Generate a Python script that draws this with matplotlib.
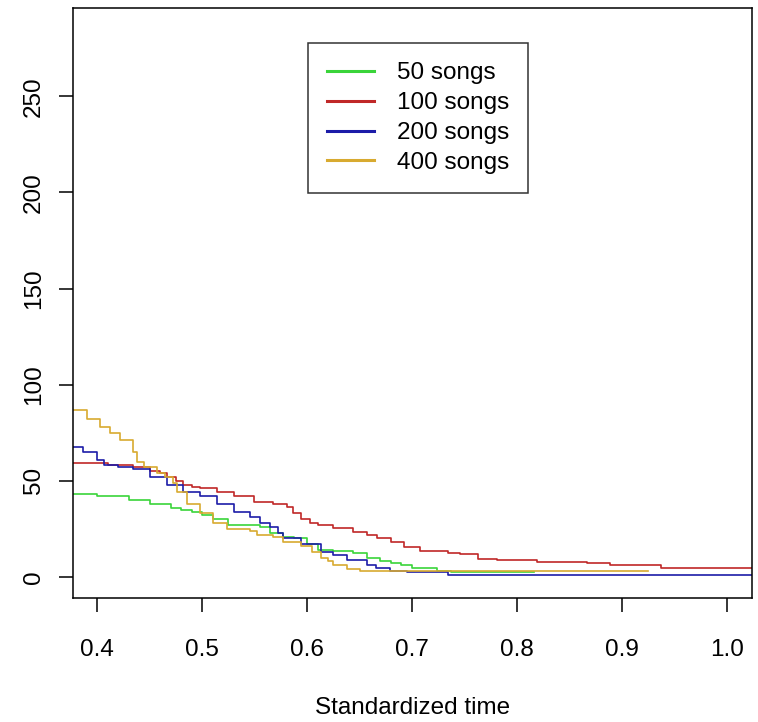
from matplotlib import pyplot as plt

plt.rcParams['font.family'] = ['Liberation Sans', 'DejaVu Sans']

# step curves (x = standardized time, y = count)
x_50 = [0.37, 0.40, 0.43, 0.45, 0.47, 0.48, 0.49, 0.50, 0.51, 0.525, 0.555, 0.565, 0.577, 0.588,
        0.60, 0.61, 0.625, 0.644, 0.657, 0.67, 0.68, 0.69, 0.70, 0.724, 0.737, 0.816]
y_50 = [43, 42, 40, 38, 36, 35, 34, 32, 30, 27, 26, 23, 21, 20,
        17, 14, 13.5, 12.5, 10, 8, 7, 6, 4.5, 3.3, 2.5, 2.5]

x_100 = [0.37, 0.41, 0.434, 0.45, 0.46, 0.467, 0.475, 0.482, 0.49, 0.498, 0.514, 0.53, 0.549, 0.568,
         0.581, 0.587, 0.594, 0.603, 0.61, 0.625, 0.644, 0.657, 0.667, 0.68, 0.692, 0.708, 0.734,
         0.746, 0.763, 0.781, 0.819, 0.867, 0.889, 0.937, 1.03]
y_100 = [59, 58, 57, 55, 54, 52, 50, 48, 47, 46, 44, 42, 39, 38,
         36.5, 33, 30, 28, 27, 25.5, 23.5, 22, 20, 18, 15.6, 13.5, 12.5,
         12, 9.4, 8.8, 7.8, 7.3, 6.2, 4.7, 4.7]

x_200 = [0.37, 0.387, 0.40, 0.407, 0.42, 0.434, 0.45, 0.467, 0.482, 0.498, 0.514, 0.53, 0.546,
         0.555, 0.565, 0.572, 0.577, 0.594, 0.613, 0.625, 0.638, 0.657, 0.666, 0.679, 0.695,
         0.734, 1.03]
y_200 = [67.5, 65, 61, 58, 57, 56, 52, 48, 44, 42, 38, 34, 31,
         28, 26, 23, 20, 17, 13, 11.5, 9, 6, 4.7, 3.3, 2.6,
         1, 1]

x_400 = [0.37, 0.39, 0.403, 0.412, 0.422, 0.434, 0.438, 0.445, 0.457, 0.465, 0.472, 0.476, 0.486,
         0.498, 0.51, 0.524, 0.546, 0.552, 0.568, 0.577, 0.594, 0.605, 0.613, 0.62, 0.625, 0.638,
         0.65, 0.925]
y_400 = [87, 82, 78, 75, 71, 65, 60, 57, 54, 52, 49, 44, 38,
         33, 28, 25, 24, 22, 21, 18, 16, 13, 10, 8, 6, 4,
         3, 3]

labels = ['50 songs', '100 songs', '200 songs', '400 songs']
colors = ['#3ad43a', '#c02828', '#1c1ca8', '#d8aa30']
x_ticks = [0.4, 0.5, 0.6, 0.7, 0.8, 0.9, 1.0]
y_ticks = [0, 50, 100, 150, 200, 250]

fig = plt.figure(figsize=(7.58, 7.22), dpi=100)
ax = fig.add_axes([73 / 758, 1 - 598 / 722, (752 - 73) / 758, (598 - 8) / 722])

series = [(x_50, y_50), (x_100, y_100), (x_200, y_200), (x_400, y_400)]
for (x, y), c, lab in zip(series, colors, labels):
    ax.step(x, y, where='post', color=c, linewidth=1.2, label=lab)

ax.set_xlim(0.377, 1.024)
ax.set_ylim(-11, 296)
ax.set_xticks(x_ticks)
ax.set_xticklabels(['%.1f' % t for t in x_ticks])
ax.set_yticks(y_ticks)
ax.set_yticklabels([str(t) for t in y_ticks], rotation=90, va='center')

for s in ax.spines.values():
    s.set_linewidth(1.1)
ax.tick_params(length=10, width=1.1, labelsize=17.5, pad=10)
ax.tick_params(axis='x', pad=19.5)
ax.set_xlabel('Standardized time', fontsize=17.5, labelpad=26)

leg = ax.legend(loc='upper left', bbox_to_anchor=(308 / 758, 1 - 43 / 722),
                bbox_transform=fig.transFigure, fontsize=17.5, frameon=True,
                fancybox=False, edgecolor='black', borderaxespad=0, borderpad=0.8,
                handlelength=1.9, handletextpad=0.95, labelspacing=0.32)
leg.get_frame().set_linewidth(1.1)
for h in leg.get_lines():
    h.set_linewidth(2.2)

fig.savefig('out.png', dpi=100)
